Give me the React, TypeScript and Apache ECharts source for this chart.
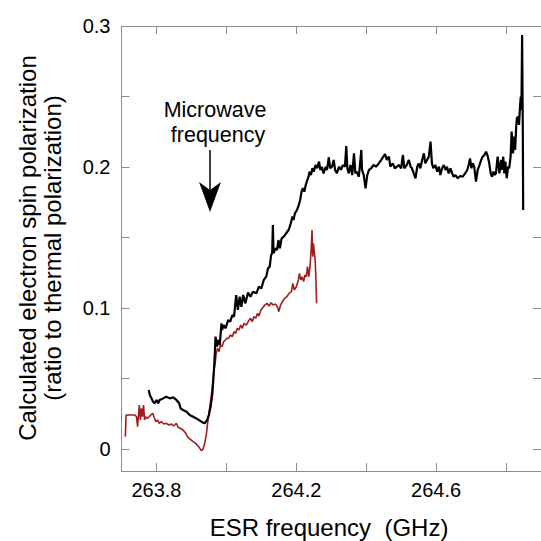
import React, { useEffect, useRef } from "react";
import * as echarts from "echarts";

// Black trace: calculated polarization (frequency in GHz, value)
const blackFreq = [
  263.778, 263.781, 263.786, 263.790, 263.795, 263.800, 263.805, 263.809, 263.819, 263.828,
  263.838, 263.848, 263.857, 263.865, 263.869, 263.876, 263.886, 263.895, 263.905, 263.914,
  263.924, 263.933, 263.938, 263.945, 263.950, 263.955, 263.960, 263.964, 263.967, 263.969,
  263.973, 263.977, 263.981, 263.986, 263.988, 263.992, 263.998, 264.005, 264.011, 264.017,
  264.022, 264.028, 264.033, 264.038, 264.043, 264.048, 264.054, 264.062, 264.069, 264.076,
  264.086, 264.093, 264.100, 264.107, 264.114, 264.119, 264.124, 264.128, 264.131, 264.133,
  264.135, 264.140, 264.145, 264.149, 264.153, 264.158, 264.164, 264.171, 264.178, 264.183,
  264.189, 264.192, 264.196, 264.202, 264.207, 264.211, 264.215, 264.219, 264.223, 264.227,
  264.230, 264.235, 264.238, 264.242, 264.246, 264.250, 264.255, 264.260, 264.265, 264.269,
  264.273, 264.278, 264.284, 264.288, 264.293, 264.297, 264.302, 264.307, 264.311, 264.316,
  264.322, 264.328, 264.333, 264.339, 264.343, 264.346, 264.350, 264.355, 264.360, 264.365,
  264.369, 264.373, 264.379, 264.386, 264.388, 264.393, 264.398, 264.403, 264.408, 264.414,
  264.421, 264.428, 264.436, 264.443, 264.449, 264.454, 264.459, 264.465, 264.469, 264.476,
  264.482, 264.488, 264.493, 264.500, 264.505, 264.509, 264.516, 264.522, 264.527, 264.531,
  264.536, 264.541, 264.546, 264.550, 264.555, 264.560, 264.565, 264.569, 264.574, 264.579,
  264.584, 264.588, 264.592, 264.598, 264.603, 264.608, 264.612, 264.617, 264.622, 264.627,
  264.631, 264.636, 264.641, 264.646, 264.650, 264.655, 264.662, 264.669, 264.676, 264.683,
  264.689, 264.693, 264.697, 264.701, 264.705, 264.709, 264.714, 264.719, 264.724, 264.729,
  264.733, 264.738, 264.743, 264.748, 264.752, 264.756, 264.760, 264.764, 264.768, 264.771,
  264.776, 264.781, 264.786, 264.788, 264.792, 264.795, 264.798, 264.802, 264.806, 264.809,
  264.813, 264.816, 264.820, 264.823, 264.826, 264.829, 264.831, 264.834, 264.837, 264.840,
  264.842, 264.844, 264.846, 264.848, 264.849,
];
const blackValue = [
  0.0418, 0.0383, 0.0359, 0.0336, 0.0324, 0.0348, 0.0324, 0.0348, 0.0359, 0.0371,
  0.0359, 0.0366, 0.0348, 0.0324, 0.0288, 0.0277, 0.0265, 0.0241, 0.0229, 0.0217,
  0.0201, 0.0187, 0.0182, 0.0206, 0.0241, 0.0300, 0.0395, 0.0537, 0.0678, 0.0797,
  0.0726, 0.0773, 0.0738, 0.0891, 0.0844, 0.0879, 0.0856, 0.0915, 0.0903, 0.0950,
  0.0939, 0.1092, 0.0986, 0.1080, 0.1009, 0.1092, 0.1033, 0.1109, 0.1080, 0.1116,
  0.1104, 0.1151, 0.1139, 0.1199, 0.1222, 0.1281, 0.1293, 0.1376, 0.1388, 0.1589,
  0.1388, 0.1423, 0.1411, 0.1482, 0.1423, 0.1494, 0.1506, 0.1530, 0.1553, 0.1589,
  0.1648, 0.1624, 0.1671, 0.1695, 0.1730, 0.1766, 0.1825, 0.1849, 0.1825, 0.1872,
  0.1896, 0.1931, 0.1967, 0.1943, 0.1991, 0.1967, 0.2014, 0.1991, 0.2038, 0.1979,
  0.2002, 0.1955, 0.2002, 0.1979, 0.2069, 0.1991, 0.2002, 0.2050, 0.1979, 0.1955,
  0.2002, 0.1979, 0.2014, 0.2002, 0.2149, 0.1991, 0.1955, 0.2014, 0.1943, 0.2097,
  0.1955, 0.1967, 0.1931, 0.2121, 0.1979, 0.1943, 0.1849, 0.1943, 0.1979, 0.1991,
  0.2014, 0.2002, 0.2026, 0.2050, 0.2073, 0.2092, 0.2050, 0.2073, 0.2002, 0.2026,
  0.1991, 0.2002, 0.2014, 0.1991, 0.2085, 0.1991, 0.2014, 0.2050, 0.2002, 0.1991,
  0.1955, 0.1920, 0.2002, 0.2026, 0.1991, 0.2050, 0.2097, 0.2026, 0.2050, 0.2073,
  0.2180, 0.2026, 0.1991, 0.2014, 0.1967, 0.2002, 0.1943, 0.1991, 0.2014, 0.1979,
  0.2002, 0.1955, 0.1991, 0.1955, 0.1931, 0.1943, 0.1920, 0.1936, 0.1931, 0.1955,
  0.1979, 0.2014, 0.2061, 0.1991, 0.2026, 0.2002, 0.1896, 0.1979, 0.2014, 0.2050,
  0.2073, 0.2085, 0.2109, 0.2073, 0.2026, 0.1955, 0.1931, 0.1967, 0.1943, 0.1955,
  0.2073, 0.1955, 0.2050, 0.1979, 0.2073, 0.1955, 0.2038, 0.1920, 0.2002, 0.1991,
  0.2073, 0.2251, 0.2097, 0.2215, 0.2121, 0.2286, 0.2345, 0.2357, 0.2298, 0.2428,
  0.2499, 0.2404, 0.2936, 0.2239, 0.1695,
];

// Red trace
const redFreq = [
  263.711, 263.713, 263.719, 263.729, 263.738, 263.743, 263.746, 263.749, 263.751, 263.754,
  263.757, 263.760, 263.763, 263.766, 263.769, 263.774, 263.779, 263.784, 263.789, 263.793,
  263.798, 263.803, 263.808, 263.814, 263.821, 263.828, 263.836, 263.843, 263.849, 263.857,
  263.862, 263.868, 263.876, 263.884, 263.890, 263.897, 263.905, 263.912, 263.919, 263.924,
  263.928, 263.933, 263.938, 263.943, 263.948, 263.954, 263.959, 263.963, 263.966, 263.968,
  263.971, 263.975, 263.979, 263.983, 263.988, 263.992, 263.997, 264.002, 264.007, 264.011,
  264.017, 264.022, 264.027, 264.031, 264.036, 264.041, 264.046, 264.050, 264.057, 264.064,
  264.069, 264.074, 264.079, 264.084, 264.089, 264.093, 264.099, 264.105, 264.110, 264.116,
  264.122, 264.128, 264.133, 264.140, 264.146, 264.150, 264.155, 264.160, 264.167, 264.173,
  264.179, 264.186, 264.190, 264.194, 264.200, 264.206, 264.209, 264.213, 264.217, 264.221,
  264.225, 264.229, 264.232, 264.236, 264.240, 264.243, 264.245, 264.247, 264.249, 264.252,
  264.254, 264.256, 264.258,
];
const redValue = [
  0.0087, 0.0241, 0.0241, 0.0241, 0.0241, 0.0229, 0.0158, 0.0253, 0.0312, 0.0206,
  0.0288, 0.0229, 0.0312, 0.0206, 0.0229, 0.0217, 0.0229, 0.0241, 0.0253, 0.0229,
  0.0194, 0.0206, 0.0182, 0.0194, 0.0177, 0.0182, 0.0170, 0.0177, 0.0163, 0.0182,
  0.0154, 0.0147, 0.0135, 0.0111, 0.0083, 0.0069, 0.0052, 0.0040, 0.0021, 0.0005,
  -0.0012, -0.0002, 0.0040, 0.0111, 0.0217, 0.0324, 0.0418, 0.0537, 0.0584, 0.0608,
  0.0678, 0.0714, 0.0690, 0.0738, 0.0726, 0.0761, 0.0773, 0.0785, 0.0785, 0.0809,
  0.0797, 0.0832, 0.0820, 0.0856, 0.0844, 0.0879, 0.0856, 0.0891, 0.0879, 0.0910,
  0.0927, 0.0903, 0.0939, 0.0927, 0.0962, 0.0943, 0.0986, 0.1005, 0.1021, 0.1033,
  0.1014, 0.1038, 0.1021, 0.1028, 0.1009, 0.0974, 0.1021, 0.1045, 0.1069, 0.1080,
  0.1104, 0.1116, 0.1175, 0.1128, 0.1151, 0.1199, 0.1246, 0.1199, 0.1222, 0.1187,
  0.1234, 0.1222, 0.1293, 0.1222, 0.1317, 0.1435, 0.1553, 0.1364, 0.1459, 0.1388,
  0.1340, 0.1222, 0.1033,
];

const xTicks = [263.8, 264.0, 264.2, 264.4, 264.6, 264.8];
const xLabels = [263.8, 264.2, 264.6];
const yTicks = [0, 0.05, 0.1, 0.15, 0.2, 0.25, 0.3];
const yLabels = [0, 0.1, 0.2, 0.3];

const FONT = "Liberation Sans, Arial, sans-serif";
const AXIS_COLOR = "#8c8c8c";

export default function App() {
  const ref = useRef<HTMLDivElement>(null);

  useEffect(() => {
    if (!ref.current) return;
    const chart = echarts.init(ref.current, undefined, { renderer: "svg" });

    const blackData = blackFreq.map((f, i) => [f, blackValue[i]]);
    const redData = redFreq.map((f, i) => [f, redValue[i]]);

    const xAxisBase = (pos: "bottom" | "top", labels: boolean) => ({
      type: "value",
      position: pos,
      min: 263.7,
      max: 264.9,
      splitLine: { show: false },
      axisLine: { show: true, onZero: false, lineStyle: { color: AXIS_COLOR, width: 1 } },
      axisTick: {
        show: true,
        inside: true,
        length: 8,
        customValues: xTicks,
        lineStyle: { color: AXIS_COLOR, width: 1 },
      },
      axisLabel: {
        show: labels,
        customValues: xLabels,
        margin: 9,
        color: "#000",
        fontFamily: FONT,
        fontSize: 20,
        formatter: (v: number) => v.toFixed(1),
      },
    });

    const yAxisBase = (pos: "left" | "right", labels: boolean) => ({
      type: "value",
      position: pos,
      min: -0.0156,
      max: 0.3,
      splitLine: { show: false },
      axisLine: { show: true, onZero: false, lineStyle: { color: AXIS_COLOR, width: 1 } },
      axisTick: {
        show: true,
        inside: true,
        length: 8,
        customValues: yTicks,
        lineStyle: { color: AXIS_COLOR, width: 1 },
      },
      axisLabel: {
        show: labels,
        customValues: yLabels,
        margin: 11,
        color: "#000",
        fontFamily: FONT,
        fontSize: 20,
        formatter: (v: number) => (Math.abs(v) < 1e-9 ? "0" : v.toFixed(1)),
      },
    });

    chart.setOption({
      animation: false,
      backgroundColor: "#fff",
      grid: { left: 121.5, right: -1, top: 26, bottom: 70, containLabel: false },
      xAxis: [xAxisBase("bottom", true), xAxisBase("top", false)],
      yAxis: [yAxisBase("left", true), yAxisBase("right", false)],
      series: [
        {
          name: "red",
          type: "line",
          data: redData,
          showSymbol: false,
          lineStyle: { color: "#a11d1d", width: 1.6 },
          z: 2,
        },
        {
          name: "black",
          type: "line",
          data: blackData,
          showSymbol: false,
          lineStyle: { color: "#000", width: 2.2 },
          z: 3,
        },
      ],
      graphic: [
        {
          type: "text",
          x: 27,
          y: 248,
          rotation: Math.PI / 2,
          style: {
            text: "Calculated electron spin polarization",
            font: `24px ${FONT}`,
            fill: "#000",
            textAlign: "center",
            textVerticalAlign: "middle",
          },
        },
        {
          type: "text",
          x: 52,
          y: 248,
          rotation: Math.PI / 2,
          style: {
            text: "(ratio to thermal polarization)",
            font: `24px ${FONT}`,
            fill: "#000",
            textAlign: "center",
            textVerticalAlign: "middle",
          },
        },
        {
          type: "text",
          x: 329,
          y: 527,
          style: {
            text: "ESR frequency  (GHz)",
            font: `24px ${FONT}`,
            fill: "#000",
            textAlign: "center",
            textVerticalAlign: "middle",
          },
        },
        {
          type: "text",
          x: 215,
          y: 110,
          style: {
            text: "Microwave",
            font: `21.5px ${FONT}`,
            fill: "#000",
            textAlign: "center",
            textVerticalAlign: "middle",
          },
        },
        {
          type: "text",
          x: 218,
          y: 135,
          style: {
            text: "frequency",
            font: `21.5px ${FONT}`,
            fill: "#000",
            textAlign: "center",
            textVerticalAlign: "middle",
          },
        },
        {
          type: "line",
          shape: { x1: 210, y1: 150, x2: 210, y2: 190 },
          style: { stroke: "#000", lineWidth: 1.5 },
        },
        {
          type: "polygon",
          shape: {
            points: [
              [199, 182],
              [210, 190],
              [221, 182],
              [210, 212],
            ],
          },
          style: { fill: "#000" },
        },
      ],
    });

    return () => chart.dispose();
  }, []);

  return (
    <div
      ref={ref}
      style={{ position: "fixed", left: 0, top: 0, width: 541, height: 541 }}
    />
  );
}
